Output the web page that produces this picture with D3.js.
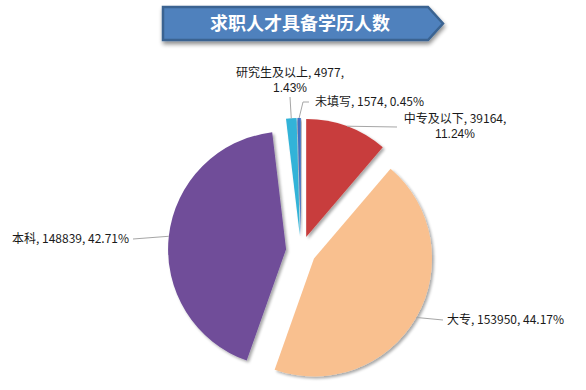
<!DOCTYPE html>
<html lang="zh">
<head>
    <meta charset="UTF-8">
    <title>求职人才具备学历人数</title>
    <style>
        body { margin: 0; background: #fff; }
        svg { display: block; font-family: "Noto Sans CJK SC", "DejaVu Sans", sans-serif; }
        .pct { font-family: "Liberation Sans", Arial, sans-serif; }
    </style>
</head>
<body>
    <script src="https://cdn.jsdelivr.net/npm/d3@7"></script>
    <script>
        // chart values
        const categories = ["中专及以下", "大专", "本科", "研究生及以上", "未填写"];
        const counts = [39164, 153950, 148839, 4977, 1574];
        const percents = ["11.24%", "44.17%", "42.71%", "1.43%", "0.45%"];
        const colors = ["#C83D3C", "#F9C08F", "#6F4E99", "#33B3D8", "#3F6FC2"];

        // label layout: anchor point, wrap or not, leader path end
        const labelLayout = [
            { x: 455, y: 123, anchor: "middle", lines: 2, lead: [[397, 127]] },
            { x: 447, y: 324, anchor: "start", lines: 1, lead: [[443, 320]] },
            { x: 12, y: 243, anchor: "start", lines: 1, lead: [[133, 239]] },
            { x: 290, y: 77, anchor: "middle", lines: 2, lead: [[290, 97]] },
            { x: 315, y: 106, anchor: "start", lines: 1, lead: [[303, 102], [309, 102]] }
        ];

        const width = 586, height = 390;
        const cx = 301, cy = 251, radius = 118, explode = 15;

        const svg = d3.select("body").append("svg")
            .attr("width", width)
            .attr("height", height);

        const defs = svg.append("defs");
        const shadow = defs.append("filter").attr("id", "shadow")
            .attr("x", "-20%").attr("y", "-20%").attr("width", "140%").attr("height", "140%");
        shadow.append("feGaussianBlur").attr("in", "SourceAlpha").attr("stdDeviation", 1.5);
        shadow.append("feOffset").attr("dx", 1.5).attr("dy", 2).attr("result", "off");
        shadow.append("feComponentTransfer").append("feFuncA").attr("type", "linear").attr("slope", 0.35);
        const merge = shadow.append("feMerge");
        merge.append("feMergeNode");
        merge.append("feMergeNode").attr("in", "SourceGraphic");

        const titleShadow = defs.append("filter").attr("id", "titleShadow")
            .attr("x", "-10%").attr("y", "-30%").attr("width", "120%").attr("height", "170%");
        titleShadow.append("feGaussianBlur").attr("in", "SourceAlpha").attr("stdDeviation", 2);
        titleShadow.append("feOffset").attr("dx", 1).attr("dy", 3).attr("result", "off");
        titleShadow.append("feComponentTransfer").append("feFuncA").attr("type", "linear").attr("slope", 0.45);
        const m2 = titleShadow.append("feMerge");
        m2.append("feMergeNode");
        m2.append("feMergeNode").attr("in", "SourceGraphic");

        // title banner
        const tx0 = 163, tx1 = 428, tip = 443, ty0 = 7, ty1 = 40;
        svg.append("path")
            .attr("d", `M${tx0},${ty0}H${tx1}L${tip},${(ty0 + ty1) / 2}L${tx1},${ty1}H${tx0}Z`)
            .attr("fill", "#4F81BD")
            .attr("stroke", "#3A6391")
            .attr("stroke-width", 2.5)
            .attr("filter", "url(#titleShadow)");
        svg.append("text")
            .attr("x", 300).attr("y", 24)
            .attr("dy", "0.36em")
            .attr("text-anchor", "middle")
            .attr("fill", "#fff")
            .attr("font-size", 18)
            .attr("font-weight", "bold")
            .text("求职人才具备学历人数");

        // pie
        const pie = d3.pie().sort(null).value(d => d)(counts);
        const arc = d3.arc().innerRadius(0).outerRadius(radius);
        const mid = d => (d.startAngle + d.endAngle) / 2;

        const g = svg.append("g").attr("transform", `translate(${cx},${cy})`);
        g.selectAll("path")
            .data(pie)
            .join("path")
            .attr("d", arc)
            .attr("fill", (d, i) => colors[i])
            .attr("filter", "url(#shadow)")
            .attr("transform", d => `translate(${Math.sin(mid(d)) * explode},${-Math.cos(mid(d)) * explode})`);

        // leader lines from outer edge of each exploded slice
        const edge = d => {
            const a = mid(d), r = radius + explode;
            return [cx + Math.sin(a) * r, cy - Math.cos(a) * r];
        };
        svg.append("g")
            .selectAll("path")
            .data(pie)
            .join("path")
            .attr("fill", "none")
            .attr("stroke", "#A6A6A6")
            .attr("stroke-width", 1)
            .attr("d", (d, i) => d3.line()([edge(d), ...labelLayout[i].lead]));

        // labels
        const labels = svg.append("g").attr("font-size", 12).attr("fill", "#1a1a1a");
        pie.forEach((d, i) => {
            const L = labelLayout[i];
            if (L.lines === 2) {
                labels.append("text")
                    .attr("x", L.x).attr("y", L.y)
                    .attr("text-anchor", L.anchor)
                    .text(`${categories[i]}, ${counts[i]},`);
                labels.append("text")
                    .attr("class", "pct")
                    .attr("x", L.x).attr("y", L.y + 15)
                    .attr("text-anchor", L.anchor)
                    .text(percents[i]);
            } else {
                labels.append("text")
                    .attr("x", L.x).attr("y", L.y)
                    .attr("text-anchor", L.anchor)
                    .text(`${categories[i]}, ${counts[i]}, ${percents[i]}`);
            }
        });
    </script>
</body>
</html>
